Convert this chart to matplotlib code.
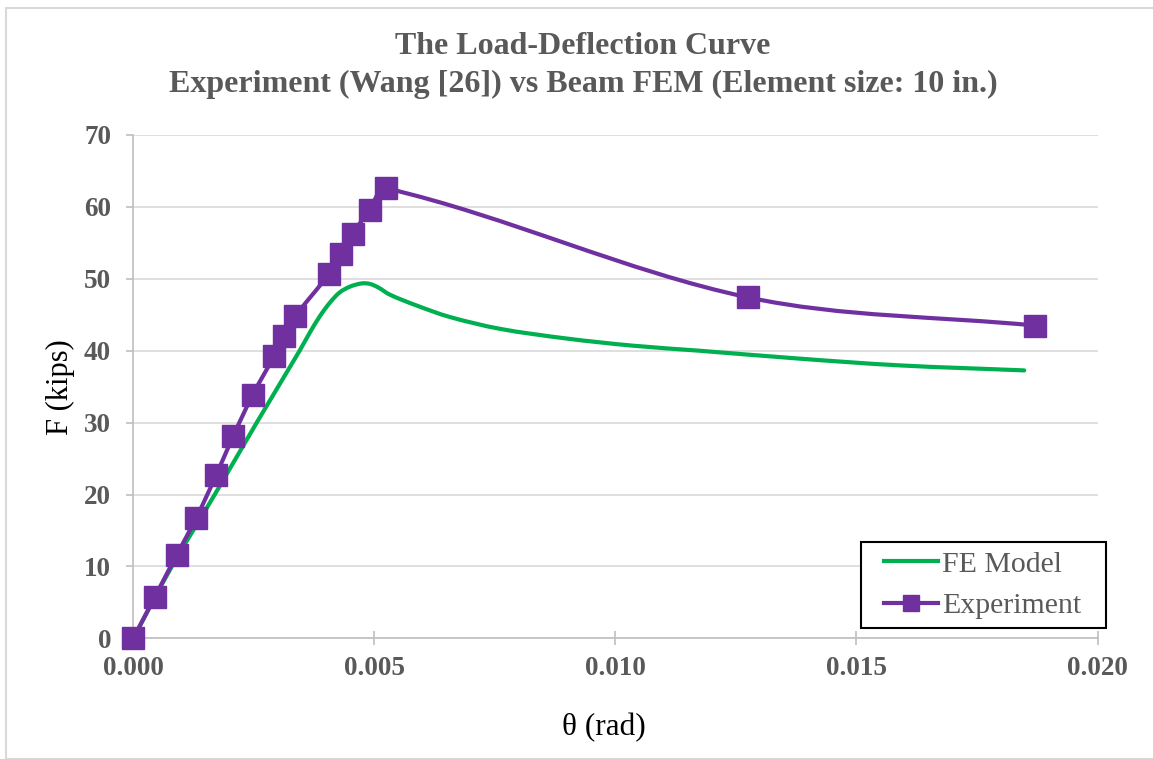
import numpy as np
import matplotlib
matplotlib.use('Agg')
import matplotlib.pyplot as plt
from matplotlib.path import Path
from matplotlib.patches import PathPatch, Rectangle
from matplotlib.lines import Line2D

plt.rcParams['font.family'] = ['Liberation Serif', 'DejaVu Serif']

# data
fe_theta = [0, 0.0008, 0.00169, 0.00256, 0.00345, 0.00366, 0.00387, 0.00408,
            0.00428, 0.00449, 0.00473, 0.0049, 0.00508, 0.00532,
            0.00587, 0.00656, 0.0076, 0.00898, 0.01036, 0.01174, 0.01381,
            0.01589, 0.01848]
fe_force = [0, 10.0, 20.0, 30.0, 40.0, 42.5, 44.8, 46.7, 48.1, 48.9, 49.35,
            49.3, 48.8, 47.8, 46.3, 44.7, 43.05, 41.7, 40.7, 40.0,
            38.9, 37.96, 37.26]

exp_theta = [0, 0.00045, 0.0009, 0.00131, 0.00172, 0.00207, 0.00248, 0.00292,
             0.00312, 0.00336, 0.00405, 0.00431, 0.00455, 0.00491, 0.00524,
             0.01276, 0.0187]
exp_force = [0, 5.8, 11.6, 16.8, 22.7, 28.1, 33.9, 39.25, 42.0, 44.8, 50.6,
             53.5, 56.3, 59.6, 62.6, 47.4, 43.5]

x_ticks = [0, 0.005, 0.010, 0.015, 0.020]
x_ticklabels = ['0.000', '0.005', '0.010', '0.015', '0.020']
y_ticks = [0, 10, 20, 30, 40, 50, 60, 70]

GREEN = '#00B050'
PURPLE = '#7030A0'
GRAY_TXT = '#595959'
GRID = '#D9D9D9'
AXIS = '#BFBFBF'

W, H = 1153, 759
fig = plt.figure(figsize=(W / 100, H / 100), dpi=100)
ax = fig.add_axes([133.3 / W, 1 - 638.3 / H, (1097.5 - 133.3) / W,
                   (638.3 - 135) / H])

# chart area border (excel-like)
fig.patches.append(Rectangle((6 / W, 0.0), 2.0, 1 - 7.5 / H,
                             transform=fig.transFigure, fill=False,
                             edgecolor='#D9D9D9', linewidth=1.5))

ax.set_xlim(0, 0.020)
ax.set_ylim(0, 70)
ax.set_xticks(x_ticks)
ax.set_xticklabels(x_ticklabels)
ax.set_yticks(y_ticks)

for s in ['top', 'right']:
    ax.spines[s].set_visible(False)
for s in ['left', 'bottom']:
    ax.spines[s].set_color(AXIS)
    ax.spines[s].set_linewidth(1.2)

ax.yaxis.grid(True, color=GRID, linewidth=1.2)
ax.set_axisbelow(True)
ax.tick_params(axis='y', direction='out', length=5, width=1.2, color=AXIS,
               pad=11, labelsize=19.5, labelcolor=GRAY_TXT)
ax.tick_params(axis='x', direction='inout', length=10, width=1.2, color=AXIS,
               pad=8, labelsize=19.5, labelcolor=GRAY_TXT)
for lbl in ax.get_xticklabels() + ax.get_yticklabels():
    lbl.set_fontweight('bold')


def smooth_patch(xs, ys, **kw):
    # smoothed line like excel: cubic bezier per segment, tangent direction
    # from the neighbours, handle length a third of the segment (no kinks)
    tr = ax.transData
    pts = tr.transform(np.column_stack([xs, ys]))
    n = len(pts)
    dirs = []
    for i in range(n):
        d = pts[min(i + 1, n - 1)] - pts[max(i - 1, 0)]
        dirs.append(d / np.hypot(*d))
    verts = [pts[0]]
    codes = [Path.MOVETO]
    for i in range(n - 1):
        seg = np.hypot(*(pts[i + 1] - pts[i]))
        verts += [pts[i] + dirs[i] * seg / 3,
                  pts[i + 1] - dirs[i + 1] * seg / 3,
                  pts[i + 1]]
        codes += [Path.CURVE4] * 3
    verts = tr.inverted().transform(np.array(verts))
    patch = PathPatch(Path(verts, codes), facecolor='none', **kw)
    ax.add_patch(patch)
    return patch


smooth_patch(fe_theta, fe_force, edgecolor=GREEN, linewidth=3,
             capstyle='round', zorder=3)
smooth_patch(exp_theta, exp_force, edgecolor=PURPLE, linewidth=3,
             capstyle='round', zorder=4)
ax.plot(exp_theta, exp_force, linestyle='none', marker='s', markersize=16,
        color=PURPLE, zorder=5, clip_on=False)

fig.text(583 / W, 1 - 47 / H, 'The Load-Deflection Curve', ha='center',
         va='center', fontsize=23, fontweight='bold', color=GRAY_TXT)
fig.text(583 / W, 1 - 84 / H,
         'Experiment (Wang [26]) vs Beam FEM (Element size: 10 in.)',
         ha='center', va='center', fontsize=23, fontweight='bold',
         color=GRAY_TXT)

fig.text(604 / W, 1 - 728 / H, 'θ (rad)', ha='center', va='center',
         fontsize=22.5, color='black')
fig.text(60 / W, 1 - 387 / H, 'F (kips)', ha='center', va='center',
         rotation=90, fontsize=22, color='black')

# legend: box drawn separately, it is wider than matplotlib's padding gives
fig.patches.append(Rectangle((861 / W, 1 - 628 / H), 245 / W, 86 / H,
                             transform=fig.transFigure, facecolor='white',
                             edgecolor='black', linewidth=1.5, zorder=6))
handles = [Line2D([], [], color=GREEN, linewidth=3),
           Line2D([], [], color=PURPLE, linewidth=3, marker='s',
                  markersize=12)]
leg = fig.legend(handles, ['FE Model', 'Experiment'], loc='center',
                 bbox_to_anchor=(983 / W, 1 - 585 / H), borderaxespad=0,
                 fontsize=21.5, labelcolor=GRAY_TXT, frameon=False,
                 handlelength=1.8, handletextpad=0.15, labelspacing=0.5,
                 borderpad=0)
leg.set_zorder(7)

fig.savefig('out.png', dpi=100)
